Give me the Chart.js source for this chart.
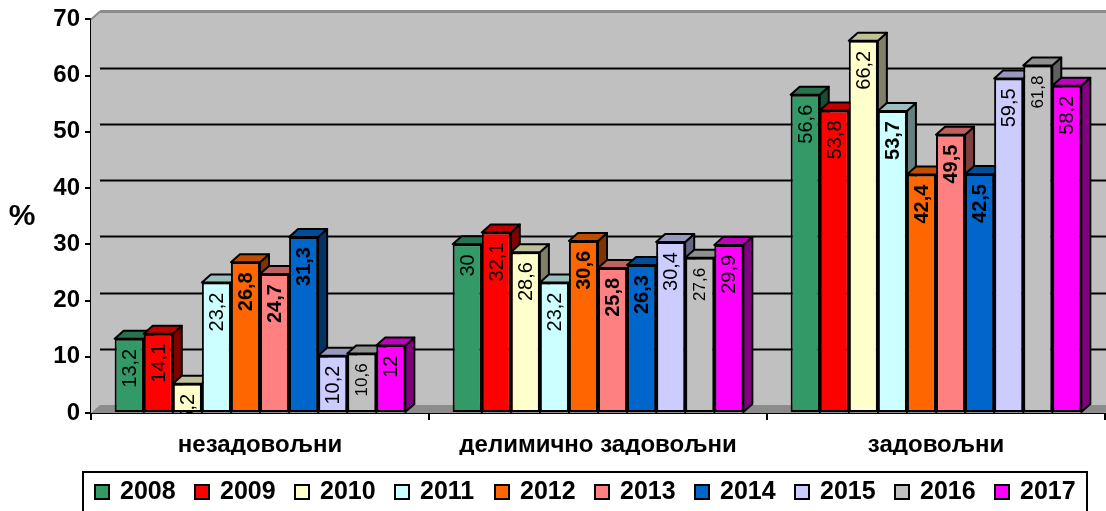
<!DOCTYPE html>
<html>
<head>
<meta charset="utf-8">
<script src="https://cdn.jsdelivr.net/npm/chart.js@4.4.0/dist/chart.umd.min.js"></script>
<style>
  html, body { margin: 0; padding: 0; background: #fff; }
  #wrap { width: 1106px; height: 511px; }
</style>
</head>
<body>
<div id="wrap"><canvas id="chart" width="1106" height="511"></canvas></div>
<script>
// Data
const categories = ["незадовољни", "делимично задовољни", "задовољни"];
const years = ["2008", "2009", "2010", "2011", "2012", "2013", "2014", "2015", "2016", "2017"];
const v2008 = [13.2, 30, 56.6];
const v2009 = [14.1, 32.1, 53.8];
const v2010 = [5.2, 28.6, 66.2];
const v2011 = [23.2, 23.2, 53.7];
const v2012 = [26.8, 30.6, 42.4];
const v2013 = [24.7, 25.8, 49.5];
const v2014 = [31.3, 26.3, 42.5];
const v2015 = [10.2, 30.4, 59.5];
const v2016 = [10.6, 27.6, 61.8];
const v2017 = [12, 29.9, 58.2];
const yTicks = [0, 10, 20, 30, 40, 50, 60, 70];

const seriesValues = [v2008, v2009, v2010, v2011, v2012, v2013, v2014, v2015, v2016, v2017];
const seriesColors = ["#339966", "#FF0000", "#FFFFCC", "#CCFFFF", "#FF6600",
                      "#FF8080", "#0066CC", "#CCCCFF", "#C0C0C0", "#FF00FF"];

// label look per series (weight per category, font size)
const labelWeights = [
  ["normal", "normal", "normal"], ["normal", "normal", "normal"], ["normal", "normal", "normal"],
  ["normal", "normal", "bold"], ["bold", "bold", "bold"], ["bold", "bold", "bold"],
  ["bold", "bold", "bold"], ["normal", "normal", "normal"], ["normal", "normal", "normal"],
  ["normal", "normal", "normal"]
];
const labelSizes = [20, 20, 20, 20, 20, 20, 20, 20, 17, 20];

const FONT = "'Liberation Sans', Arial, sans-serif";
const DX = 9, DY = 8;

function shade(hex, f) {
  const n = parseInt(hex.slice(1), 16);
  const r = Math.round(((n >> 16) & 255) * f);
  const g = Math.round(((n >> 8) & 255) * f);
  const b = Math.round((n & 255) * f);
  return "rgb(" + r + "," + g + "," + b + ")";
}

// grey back wall, floor and wall grid lines
const wallPlugin = {
  id: "wall",
  beforeDatasetsDraw(chart) {
    const { ctx, chartArea: a, scales: { y } } = chart;
    const W = chart.width;
    const top = y.getPixelForValue(70);
    ctx.save();
    ctx.fillStyle = "#C0C0C0";
    ctx.beginPath();
    ctx.moveTo(a.left, a.bottom);
    ctx.lineTo(a.left, top);
    ctx.lineTo(a.left + DX, top - DY);
    ctx.lineTo(W, top - DY);
    ctx.lineTo(W, a.bottom);
    ctx.closePath();
    ctx.fill();

    // floor
    ctx.fillStyle = "#8C8C8C";
    ctx.beginPath();
    ctx.moveTo(a.left, a.bottom);
    ctx.lineTo(a.right, a.bottom);
    ctx.lineTo(a.right + DX, a.bottom - DY);
    ctx.lineTo(a.left + DX, a.bottom - DY);
    ctx.closePath();
    ctx.fill();

    // wall grid lines
    yTicks.forEach(v => {
      if (v === 0) return;
      const py = Math.round(y.getPixelForValue(v) - DY) + 0.5;
      ctx.strokeStyle = v === 70 ? "#8C8C8C" : "#000";
      ctx.lineWidth = v === 70 ? 3 : 2;
      ctx.beginPath();
      ctx.moveTo(a.left + DX, py);
      ctx.lineTo(W, py);
      ctx.stroke();
    });
    // left wall top edge
    ctx.strokeStyle = "#8C8C8C";
    ctx.lineWidth = 2;
    ctx.beginPath();
    ctx.moveTo(a.left, top);
    ctx.lineTo(a.left + DX, top - DY);
    ctx.stroke();

    // 3D sides and tops of every bar, fronts are drawn by Chart.js afterwards
    ctx.lineWidth = 2;
    ctx.lineJoin = "round";
    ctx.strokeStyle = "#000";
    chart.data.datasets.forEach((ds, i) => {
      const meta = chart.getDatasetMeta(i);
      meta.data.forEach(el => {
        const { x, y: ty, base, width } = el.getProps(["x", "y", "base", "width"], true);
        const l = x - width / 2, r = x + width / 2;
        ctx.fillStyle = shade(seriesColors[i], 0.5);
        ctx.beginPath();
        ctx.moveTo(r, ty);
        ctx.lineTo(r + DX, ty - DY);
        ctx.lineTo(r + DX, base - DY);
        ctx.lineTo(r, base);
        ctx.closePath();
        ctx.fill();
        ctx.stroke();
        ctx.fillStyle = shade(seriesColors[i], 0.75);
        ctx.beginPath();
        ctx.moveTo(l, ty);
        ctx.lineTo(l + DX, ty - DY);
        ctx.lineTo(r + DX, ty - DY);
        ctx.lineTo(r, ty);
        ctx.closePath();
        ctx.fill();
        ctx.stroke();
      });
    });
    ctx.restore();
  }
};

// rotated value labels, "%" title and the boxed legend
const labelPlugin = {
  id: "labels",
  afterDatasetsDraw(chart) {
    const { ctx, chartArea: a } = chart;
    ctx.save();
    ctx.beginPath();
    ctx.rect(a.left, 0, chart.width - a.left, a.bottom);
    ctx.clip();
    ctx.fillStyle = "#000";
    ctx.textAlign = "right";
    ctx.textBaseline = "middle";
    chart.data.datasets.forEach((ds, i) => {
      const meta = chart.getDatasetMeta(i);
      meta.data.forEach((el, j) => {
        const { x, y } = el.getProps(["x", "y"], true);
        ctx.save();
        ctx.translate(x + 1, y + 10);
        ctx.rotate(-Math.PI / 2);
        ctx.font = labelWeights[i][j] + " " + labelSizes[i] + "px " + FONT;
        ctx.fillText(String(ds.data[j]).replace(".", ","), 0, 0);
        ctx.restore();
      });
    });
    ctx.restore();
  },
  afterDraw(chart) {
    const { ctx } = chart;
    ctx.save();
    ctx.fillStyle = "#000";
    ctx.font = "bold 30px " + FONT;
    ctx.textAlign = "center";
    ctx.textBaseline = "middle";
    ctx.fillText("%", 22, 217);

    // legend
    ctx.strokeStyle = "#000";
    ctx.lineWidth = 2;
    ctx.strokeRect(83, 472, 1004, 50);
    ctx.font = "bold 25px " + FONT;
    ctx.textAlign = "left";
    years.forEach((yr, i) => {
      const bx = 95 + i * 100;
      ctx.fillStyle = seriesColors[i];
      ctx.fillRect(bx, 485, 14, 14);
      ctx.lineWidth = 2;
      ctx.strokeRect(bx, 485, 14, 14);
      ctx.fillStyle = "#000";
      ctx.fillText(yr, bx + 25, 492);
    });
    ctx.restore();
  }
};

const datasets = years.map((yr, i) => ({
  label: yr,
  data: seriesValues[i],
  backgroundColor: seriesColors[i],
  borderColor: "#000",
  borderWidth: 2,
  borderSkipped: false,
  barPercentage: 1,
  categoryPercentage: 0.86
}));

new Chart(document.getElementById("chart"), {
  type: "bar",
  data: { labels: categories, datasets: datasets },
  options: {
    responsive: false,
    animation: false,
    events: [],
    layout: { padding: { left: 0, right: 1, top: 17, bottom: 56 } },
    plugins: {
      legend: { display: false },
      tooltip: { enabled: false }
    },
    scales: {
      x: {
        grid: { offset: true, drawOnChartArea: false, drawTicks: true, tickLength: 7, color: "#000", lineWidth: 2 },
        border: { display: true, color: "#000", width: 2 },
        ticks: { color: "#000", padding: 11, font: { family: FONT, size: 24, weight: "bold" } },
        afterFit: s => { s.height = 42; }
      },
      y: {
        min: 0,
        max: 70,
        afterBuildTicks: s => { s.ticks = yTicks.map(v => ({ value: v })); },
        grid: { drawOnChartArea: false, drawTicks: true, tickLength: 6, color: "#000", lineWidth: 2 },
        border: { display: true, color: "#000", width: 2 },
        ticks: { color: "#000", padding: 5, font: { family: FONT, size: 24, weight: "bold" } },
        afterFit: s => { s.width = 91; }
      }
    }
  },
  plugins: [wallPlugin, labelPlugin]
});
</script>
</body>
</html>
